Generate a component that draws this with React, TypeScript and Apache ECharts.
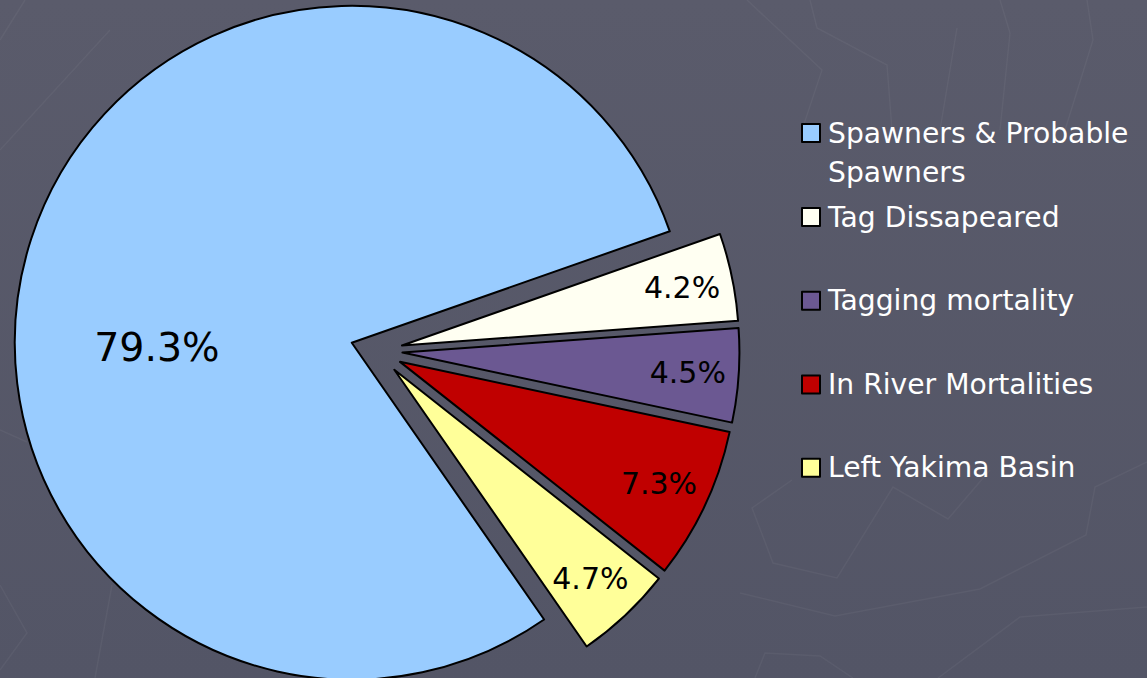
import React, { useEffect, useRef } from "react";
import * as echarts from "echarts";

const categories = [
  "Spawners & Probable Spawners",
  "Tag Dissapeared",
  "Tagging mortality",
  "In River Mortalities",
  "Left Yakima Basin",
];
const values = [79.3, 4.2, 4.5, 7.3, 4.7];
const colors = ["#99CCFF", "#FFFFF2", "#6B5892", "#C00000", "#FFFF99"];
const legendLabels = [
  "\nSpawners & Probable\nSpawners",
  "Tag Dissapeared",
  "Tagging mortality",
  "In River Mortalities",
  "Left Yakima Basin",
];
const legendTops = [74.5, 197.5, 281.2, 365, 448.3];

// faint decorative background strokes
const bgLines: number[][][] = [
  [[740, 593], [835, 616], [980, 589], [1086, 535], [1095, 487], [1147, 462]],
  [[792, 480], [752, 508], [773, 563], [837, 578], [893, 487], [948, 519], [990, 470]],
  [[938, 678], [1020, 617], [1147, 607]],
  [[755, 678], [765, 653], [820, 656], [853, 678]],
  [[747, 0], [822, 70], [802, 130]],
  [[810, 0], [817, 28], [887, 65], [892, 130]],
  [[957, 28], [940, 130]],
  [[1000, 0], [1010, 33], [1000, 130]],
  [[1087, 0], [1093, 40], [1065, 130]],
  [[0, 40], [25, 0]],
  [[0, 150], [110, 30]],
  [[0, 430], [27, 442]],
  [[0, 585], [27, 633], [0, 670]],
  [[95, 678], [112, 585]],
];

const CX = 376.5;
const CY = 350.8;
const R = 337;
const OFFSET = 26;
const START = -55.2;

export default function App() {
  const ref = useRef<HTMLDivElement>(null);
  useEffect(() => {
    if (!ref.current) return;
    const chart = echarts.init(ref.current, null, { renderer: "svg" });
    const total = values.reduce((a, b) => a + b, 0);
    const mids: number[] = [];
    let acc = START;
    values.forEach((v) => {
      const span = (v / total) * 360;
      mids.push(acc - span / 2);
      acc -= span;
    });
    const labelFrac = [0.57, 0.84, 0.84, 0.84, 0.84];
    const labelAngle = mids.map((m, i) => (i === 0 ? 181.5 : m));
    const labelSize = [39.5, 30, 30, 30, 30];

    // shift label from default inside anchor (R/2 on bisector) to target
    const paddings = mids.map((m, i) => {
      const mr = (m * Math.PI) / 180;
      const ar = (labelAngle[i] * Math.PI) / 180;
      const sx = labelFrac[i] * R * Math.cos(ar) - 0.5 * R * Math.cos(mr);
      const sy = -labelFrac[i] * R * Math.sin(ar) + 0.5 * R * Math.sin(mr);
      return [
        Math.max(0, 2 * sy),
        Math.max(0, -2 * sx),
        Math.max(0, -2 * sy),
        Math.max(0, 2 * sx),
      ];
    });

    chart.setOption({
      animation: false,
      backgroundColor: {
        type: "linear",
        x: 0,
        y: 0,
        x2: 0,
        y2: 1,
        colorStops: [
          { offset: 0, color: "#5A5B6B" },
          { offset: 1, color: "#535566" },
        ],
      },
      graphic: bgLines.map((pts) => ({
        type: "polyline",
        silent: true,
        z: -10,
        shape: { points: pts },
        style: { stroke: "rgba(255,255,255,0.045)", lineWidth: 1.5, fill: null },
      })),
      legend: categories.map((name, i) => ({
        data: [name],
        orient: "vertical",
        left: 801,
        top: legendTops[i],
        padding: 0,
        icon: "rect",
        itemWidth: 18,
        itemHeight: 18,
        selectedMode: false,
        formatter: () => legendLabels[i],
        textStyle: {
          color: "#FFFFFF",
          fontFamily: "DejaVu Sans",
          fontSize: 28.2,
          lineHeight: 39,
          padding: [0, 0, 0, 3],
        },
      })),
      series: [
        {
          type: "pie",
          center: [CX, CY],
          radius: R,
          startAngle: START,
          clockwise: true,
          selectedMode: "multiple",
          selectedOffset: OFFSET,
          avoidLabelOverlap: false,
          silent: true,
          itemStyle: { borderColor: "#000000", borderWidth: 2 },
          label: {
            show: true,
            position: "inside",
            color: "#000000",
            fontFamily: "DejaVu Sans",
            fontSize: 30,
          },
          labelLine: { show: false },
          data: categories.map((name, i) => ({
            name,
            value: values[i],
            selected: true,
            itemStyle: { color: colors[i] },
            label: {
              formatter: "{v|" + values[i].toFixed(1) + "%}",
              padding: paddings[i],
              rich: {
                v: {
                  fontFamily: "DejaVu Sans",
                  fontSize: labelSize[i],
                  color: "#000000",
                },
              },
            },
          })),
        },
      ],
    });
    return () => chart.dispose();
  }, []);
  return (
    <div
      ref={ref}
      style={{ position: "fixed", left: 0, top: 0, width: 1147, height: 678 }}
    />
  );
}
